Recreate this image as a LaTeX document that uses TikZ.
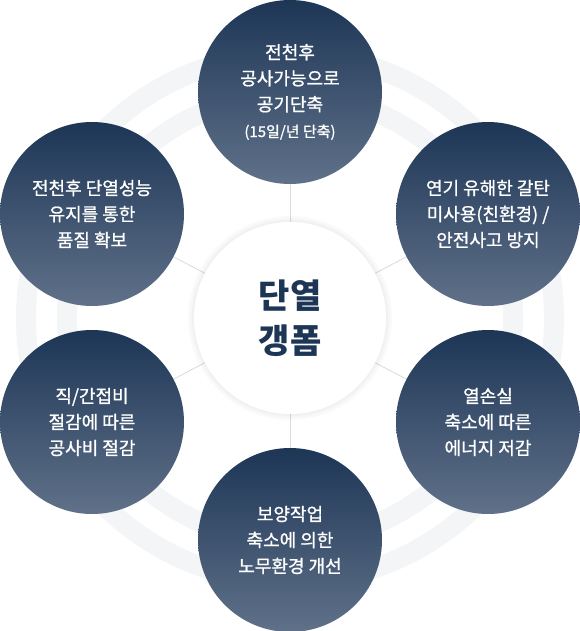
\documentclass[tikz,border=0pt]{standalone}
\usepackage{fontspec}
\setmainfont{Noto Sans CJK KR}
\newfontfamily\medkr[FakeBold=1]{Noto Sans CJK KR}
\usetikzlibrary{backgrounds}
\definecolor{navytop}{HTML}{1D3656}
\definecolor{navymid}{HTML}{2A4466}
\definecolor{navybot}{HTML}{607189}
\definecolor{ringgray}{HTML}{F4F5F7}
\definecolor{spokegray}{HTML}{D6DAE1}
\begin{document}
\begin{tikzpicture}[x=1pt,y=-1pt,
  ring/.style={draw=ringgray, line width=20pt},
  spoke/.style={draw=spokegray, line width=0.8pt},
  benefit/.style={circle, minimum size=184pt, inner sep=0pt, top color=navytop,
    middle color=navymid, bottom color=navybot, text=white, align=center,
    font=\medkr\fontsize{18}{26}\selectfont},
  core/.style={circle, minimum size=192pt, inner sep=0pt, fill=white, text=navytop,
    align=center, font=\bfseries\fontsize{34}{45}\selectfont}]
\useasboundingbox (0,0) rectangle (580,631);
% center and the six benefits
\node[core] (core) at (290,318) {단열\\갱폼};
\node[benefit] (top) at (290,92) {전천후\\공사가능으로\\공기단축\\{\fontsize{15}{24}\selectfont(15일/년 단축)}};
\node[benefit] (upright) at (488,214) {연기 유해한 갈탄\\미사용(친환경) /\\안전사고 방지};
\node[benefit] (lowright) at (488,422) {열손실\\축소에 따른\\에너지 저감};
\node[benefit] (bottom) at (290,540) {보양작업\\축소에 의한\\노무환경 개선};
\node[benefit] (lowleft) at (92,422) {직/간접비\\절감에 따른\\공사비 절감};
\node[benefit] (upleft) at (92,214) {전천후 단열성능\\유지를 통한\\품질 확보};
\begin{scope}[on background layer]
% rings behind everything
\draw[ring] (core.center) circle (223);
\draw[ring] (core.center) circle (264);
% spokes
\foreach \b in {top,upright,lowright,bottom,lowleft,upleft}
  \draw[spoke] (core.center) -- (\b.center);
% soft glow round the center
\foreach \r in {96,98,100,102}
  \fill[black!60!navytop, opacity=0.02] (core.center) circle (\r);
\end{scope}
\end{tikzpicture}
\end{document}
